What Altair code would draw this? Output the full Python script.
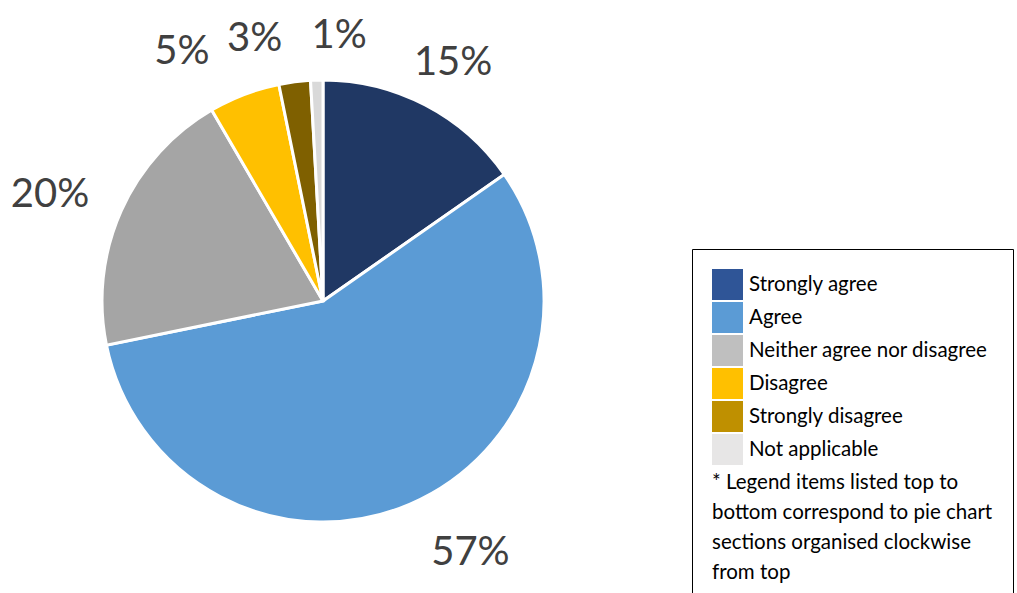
import math
import altair as alt
import pandas as pd

categories = ["Strongly agree", "Agree", "Neither agree nor disagree",
              "Disagree", "Strongly disagree", "Not applicable"]
shares = [15.3, 56.5, 19.8, 5.2, 2.3, 0.9]
labels = ["15%", "57%", "20%", "5%", "3%", "1%"]
pie_colors = ["#203864", "#5B9BD5", "#A5A5A5", "#FFC000", "#7F6000", "#D9D9D9"]
legend_colors = ["#2F5597", "#5B9BD5", "#BFBFBF", "#FFC000", "#BF9000", "#E7E6E6"]
footnote = ["* Legend items listed top to",
            "bottom correspond to pie chart",
            "sections organised clockwise",
            "from top"]

df = pd.DataFrame({"cat": categories, "share": shares, "label": labels,
                   "idx": list(range(len(categories)))})
total = sum(shares)

CX, CY = 323, 301
theta_scale = alt.Scale(domain=[0, total], range=[0, 2 * math.pi])

base = (alt.Chart(df)
        .transform_window(v1="sum(share)", frame=[None, 0], sort=[alt.SortField("idx")])
        .transform_calculate(v0="datum.v1 - datum.share",
                             mid="datum.v1 - datum.share / 2"))

arc = base.mark_arc(outerRadius=221, stroke="white", strokeWidth=3).encode(
    theta=alt.Theta("v0:Q", scale=theta_scale, stack=None),
    theta2="v1:Q",
    fill=alt.Fill("cat:N", scale=alt.Scale(domain=categories, range=pie_colors), legend=None),
    x=alt.value(CX), y=alt.value(CY),
)

offsets = [(3, 6), (39, -1), (-22, 6), (-43, 8), (-33, 11), (24, 10)]
texts = []
for i, (ddx, ddy) in enumerate(offsets):
    t = base.transform_filter(alt.datum.idx == i).mark_text(
        radius=275, font="Lato", fontSize=40, color="#404040",
        align="center", baseline="middle", dx=ddx, dy=ddy,
    ).encode(
        theta=alt.Theta("mid:Q", scale=theta_scale, stack=None),
        text="label:N",
        x=alt.value(CX), y=alt.value(CY),
    )
    texts.append(t)

legend_layer = alt.Chart(df).mark_square(size=100, opacity=1, filled=True).encode(
    x=alt.value(-60), y=alt.value(-60),
    color=alt.Color("cat:N", scale=alt.Scale(domain=categories, range=legend_colors),
                    legend=alt.Legend(
                        orient="none", legendX=692, legendY=249,
                        title=footnote, titleOrient="bottom", titleAnchor="start",
                        titleFontWeight="normal", titleFont="Lato", titleFontSize=20.5,
                        titleLineHeight=30, titleColor="black", titlePadding=8,
                        titleLimit=600,
                        labelFont="Lato", labelFontSize=20.5, labelColor="black",
                        labelLimit=600, labelOffset=6,
                        symbolType="square", symbolSize=961, symbolStrokeWidth=0,
                        symbolOpacity=1,
                        rowPadding=2, padding=20,
                        strokeColor="black", fillColor="white",
                    )),
)

chart = alt.layer(legend_layer, arc, *texts).properties(
    width=1017, height=593,
    autosize=alt.AutoSizeParams(type="none"),
    padding=0,
    background="white",
).configure_view(stroke=None)

chart.save("out.html", embed_options={"renderer": "svg", "actions": False})
